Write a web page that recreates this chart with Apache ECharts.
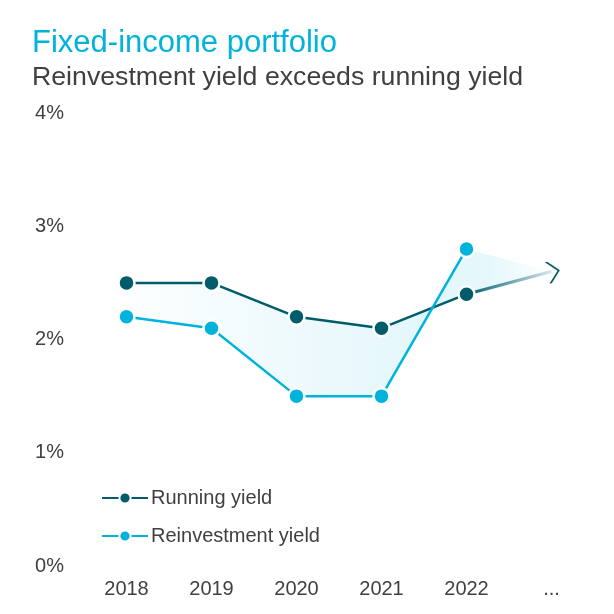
<!DOCTYPE html>
<html>
<head>
<meta charset="utf-8">
<script src="https://cdn.jsdelivr.net/npm/echarts@6/dist/echarts.min.js"></script>
<style>
html,body{margin:0;padding:0;background:#fff;}
#chart{width:614px;height:614px;}
</style>
</head>
<body>
<div id="chart"></div>
<script>
const categories = ['2018', '2019', '2020', '2021', '2022', '...'];
const runningYield = [2.5, 2.5, 2.2, 2.1, 2.4];
const runningOutlook = 2.6;
const reinvestmentYield = [2.2, 2.1, 1.5, 1.5, 2.8];
const yTicks = [0, 1, 2, 3, 4];

const DARK = '#005b6b';
const CYAN = '#00b3dc';
const TEXT = '#404040';
const FONT = '"Liberation Sans", Arial, sans-serif';

const last = runningYield.length - 1;
const extData = categories.map((c, i) => {
  if (i === last) return runningYield[last];
  if (i === last + 1) return {
    value: runningOutlook,
    symbol: 'path://M0,0 L2.2,0 L12,11 L2.2,22 L0,22 L9.8,11 Z',
    symbolSize: [13, 22],
    symbolRotate: 12,
    symbolOffset: [2, 0],
    itemStyle: { color: DARK, borderWidth: 0 }
  };
  return null;
});

const chart = echarts.init(document.getElementById('chart'));
chart.setOption({
  animation: false,
  backgroundColor: '#fff',
  title: [
    { text: 'Fixed-income portfolio', left: 27, top: 23,
      textStyle: { color: CYAN, fontFamily: FONT, fontWeight: 'normal', fontSize: 31 } },
    { text: 'Reinvestment yield exceeds running yield', left: 27, top: 59,
      textStyle: { color: TEXT, fontFamily: FONT, fontWeight: 'normal', fontSize: 26.7 } }
  ],
  legend: {
    orient: 'vertical', left: 96, top: 483, itemGap: 18,
    itemWidth: 46, itemHeight: 14,
    data: ['Running yield', 'Reinvestment yield'],
    textStyle: { color: TEXT, fontFamily: FONT, fontSize: 20, padding: [0, 0, 0, -2] }
  },
  grid: { left: 84, right: 20, top: 113, bottom: 48 },
  xAxis: {
    type: 'category', data: categories, boundaryGap: true,
    axisLine: { show: false }, axisTick: { show: false }, splitLine: { show: false },
    axisLabel: { color: TEXT, fontFamily: FONT, fontSize: 20, margin: 13 }
  },
  yAxis: {
    type: 'value', min: yTicks[0], max: yTicks[yTicks.length - 1], interval: 1,
    axisLine: { show: false }, axisTick: { show: false }, splitLine: { show: false },
    axisLabel: { color: TEXT, fontFamily: FONT, fontSize: 20, margin: 20, formatter: v => v + '%' }
  },
  series: [
    {
      type: 'custom', name: 'gap', silent: true, z: 1,
      data: [0],
      renderItem: function (params, api) {
        const pts = [];
        runningYield.forEach((v, i) => pts.push(api.coord([i, v])));
        pts.push(api.coord([last + 1, runningOutlook]));
        for (let i = reinvestmentYield.length - 1; i >= 0; i--) pts.push(api.coord([i, reinvestmentYield[i]]));
        return {
          type: 'polygon',
          shape: { points: pts },
          style: {
            fill: new echarts.graphic.LinearGradient(0, 0, 1, 0, [
              { offset: 0, color: 'rgba(0,179,220,0.01)' },
              { offset: 0.7, color: 'rgba(0,179,220,0.11)' },
              { offset: 0.85, color: 'rgba(0,179,220,0.10)' },
              { offset: 1, color: 'rgba(0,179,220,0.0)' }
            ])
          }
        };
      }
    },
    {
      type: 'line', name: 'runningExt', z: 2, data: extData,
      showSymbol: true, symbol: 'none', connectNulls: false,
      lineStyle: {
        width: 3,
        color: new echarts.graphic.LinearGradient(0, 0, 1, 0, [
          { offset: 0, color: DARK },
          { offset: 1, color: 'rgba(0,91,107,0.12)' }
        ])
      },
      itemStyle: { color: DARK },
      emphasis: { disabled: true }
    },
    {
      type: 'line', name: 'Running yield', z: 3, data: runningYield,
      symbol: 'circle', symbolSize: 16,
      lineStyle: { color: DARK, width: 2.5 },
      itemStyle: { color: DARK, borderColor: '#fff', borderWidth: 2.5 }
    },
    {
      type: 'line', name: 'Reinvestment yield', z: 4, data: reinvestmentYield,
      symbol: 'circle', symbolSize: 16,
      lineStyle: { color: CYAN, width: 2.5 },
      itemStyle: { color: CYAN, borderColor: '#fff', borderWidth: 2.5 }
    }
  ]
});
</script>
</body>
</html>
